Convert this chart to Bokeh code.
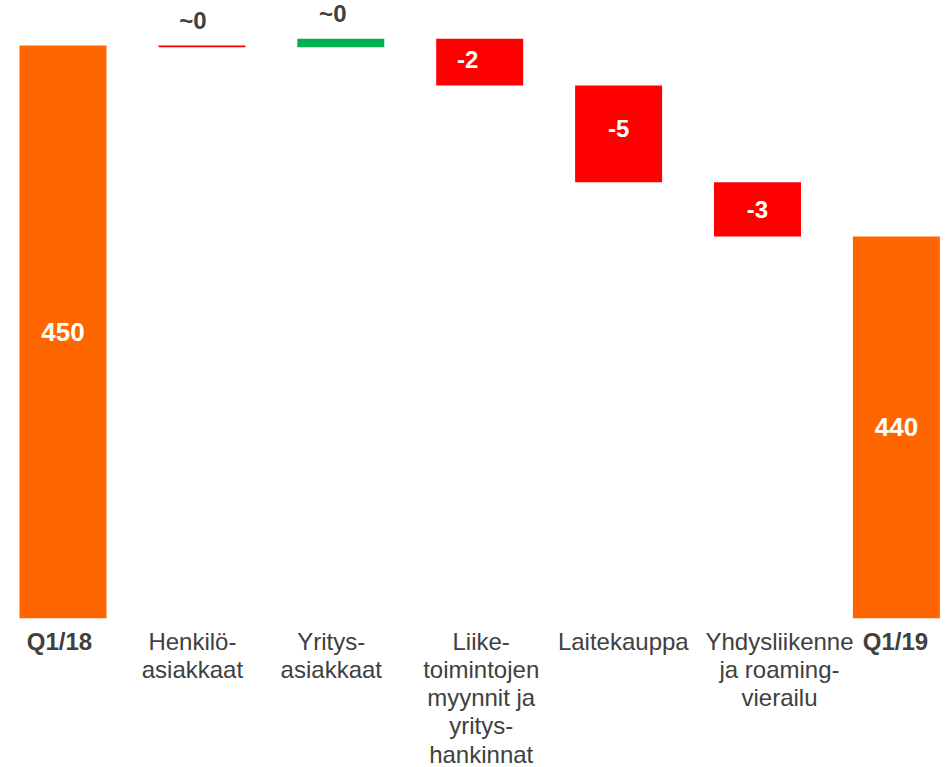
from bokeh.plotting import figure
from bokeh.models import Range1d, ColumnDataSource
from bokeh.core.properties import value
from bokeh.embed import file_html
from bokeh.resources import INLINE

# ---- data ----
categories = ["Q1/18", "Henkilö-\nasiakkaat", "Yritys-\nasiakkaat",
              "Liike-\ntoimintojen\nmyynnit ja\nyritys-\nhankinnat",
              "Laitekauppa", "Yhdysliikenne\nja roaming-\nvierailu", "Q1/19"]
start_value = 450
end_value = 440
deltas = [-0.09, 0.45, -2.45, -5.07, -2.84]
delta_labels = ["~0", "~0", "-2", "-5", "-3"]
total_labels = ["450", "440"]
axis_floor = 420

# ---- styles ----
ORANGE = "#FF6600"
RED = "#FF0000"
GREEN = "#00B050"
TEXT = "#404040"
FONT = "Liberation Sans"
label_dx = [-9, -8, -12, 0, 0]
label_dy = [0, 0, -3, -5, 0]
cat_dx = [-3.5, -9.5, -9.5, 1.5, 4.7, 22, -1]

n = len(categories)
xs = list(range(n))

# waterfall geometry from data
bottoms, tops, colors = [axis_floor], [start_value], [ORANGE]
level = start_value
for d in deltas:
    new = level + d
    bottoms.append(min(level, new))
    tops.append(max(level, new))
    colors.append(GREEN if d > 0 else RED)
    level = new
bottoms.append(axis_floor)
tops.append(end_value)
colors.append(ORANGE)

bars = ColumnDataSource(dict(x=xs, bottom=bottoms, top=tops, color=colors))

W, H = 945, 767
spacing = 138.9
px_per_unit = 19.09
floor_px = 617.7
first_px = 62.5
p = figure(width=W, height=H, output_backend="svg", toolbar_location=None,
           x_range=Range1d(-first_px / spacing,
                           (W - first_px) / spacing),
           y_range=Range1d(axis_floor - (H - floor_px) / px_per_unit,
                           axis_floor + floor_px / px_per_unit),
           min_border=0, outline_line_color=None)
p.axis.visible = False
p.grid.visible = False
p.background_fill_color = "white"
p.border_fill_color = "white"

p.vbar(x="x", bottom="bottom", top="top", width=87 / spacing, color="color",
       line_color=None, source=bars)

# totals labels
tot_src = ColumnDataSource(dict(
    x=[xs[0], xs[-1]],
    y=[(axis_floor + start_value) / 2, (axis_floor + end_value) / 2],
    t=total_labels))
p.text(x="x", y="y", text="t", source=tot_src, text_color="white",
       text_font=value(FONT), text_font_style="bold", text_font_size="26px",
       text_align="center", text_baseline="middle")

# delta labels
in_x, in_y, in_t, in_dx, in_dy = [], [], [], [], []
out_x, out_y, out_t, out_dx = [], [], [], []
for i, d in enumerate(deltas):
    j = i + 1
    if abs(d) < 1:
        out_x.append(j); out_y.append(tops[j]); out_t.append(delta_labels[i]); out_dx.append(label_dx[i])
    else:
        in_x.append(j); in_y.append((tops[j] + bottoms[j]) / 2); in_t.append(delta_labels[i])
        in_dx.append(label_dx[i]); in_dy.append(label_dy[i])

p.text(x="x", y="y", text="t", x_offset="dx", y_offset="dy",
       source=ColumnDataSource(dict(x=in_x, y=in_y, t=in_t, dx=in_dx, dy=in_dy)),
       text_color="white", text_font=value(FONT), text_font_style="bold",
       text_font_size="24px", text_align="center", text_baseline="middle")
p.text(x="x", y="y", text="t", x_offset="dx",
       source=ColumnDataSource(dict(x=out_x, y=out_y, t=out_t, dx=out_dx)),
       text_color=TEXT, text_font=value(FONT), text_font_style="bold",
       text_font_size="24px", text_align="center", text_baseline="alphabetic",
       y_offset=-25)

# category labels
styles = ["bold"] + ["normal"] * (n - 2) + ["bold"]
cat_src = ColumnDataSource(dict(x=xs, y=[axis_floor] * n, t=categories, s=styles, dx=cat_dx))
p.text(x="x", y="y", text="t", source=cat_src, text_font_style="s",
       x_offset="dx",
       text_color=TEXT, text_font=value(FONT), text_font_size="24px",
       text_align="center", text_baseline="top", y_offset=10,
       text_line_height=1.04)

open("out.html", "w").write(file_html(p, INLINE))
